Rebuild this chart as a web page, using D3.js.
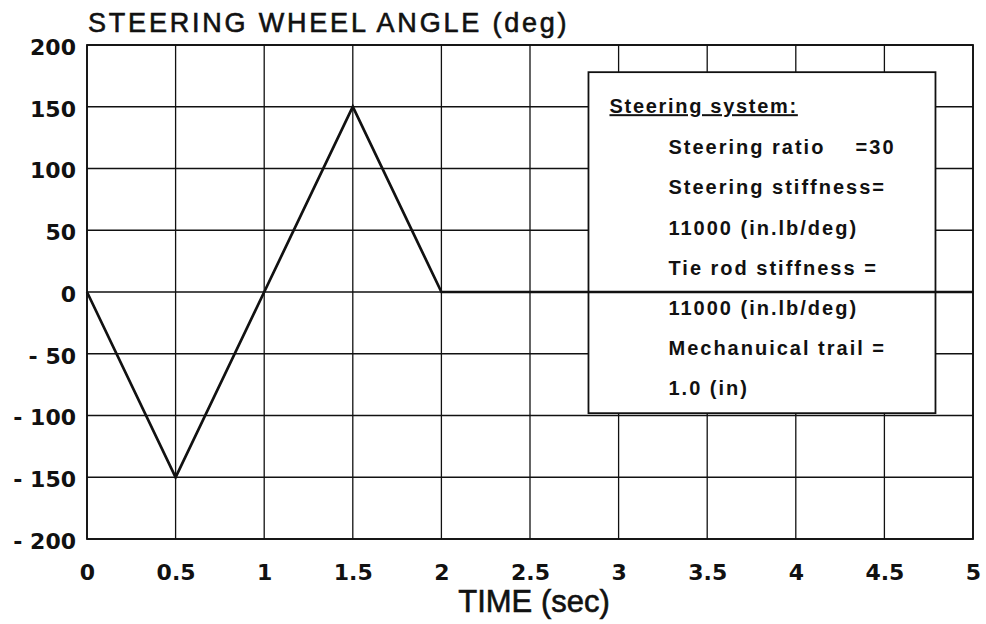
<!DOCTYPE html>
<html>
<head>
<meta charset="utf-8">
<script src="https://cdn.jsdelivr.net/npm/d3@7"></script>
<style>
  body { margin: 0; background: #fff; }
  svg { font-family: "Liberation Sans", Arial, sans-serif; }
</style>
</head>
<body>
<svg id="chart" width="986" height="624"></svg>
<script>
// steering input: time (sec) and steering wheel angle (deg)
const time = [0, 0.5, 1, 1.5, 2, 5]
const angle = [0, -150, 0, 150, 0, 0]

const xTicks = [0, 0.5, 1, 1.5, 2, 2.5, 3, 3.5, 4, 4.5, 5]
const yTicks = [200, 150, 100, 50, 0, -50, -100, -150, -200]

const legendTitle = "Steering system:"
const legendLines = [
    "Steering ratio    =30",
    "Steering stiffness=",
    "11000 (in.lb/deg)",
    "Tie rod stiffness =",
    "11000 (in.lb/deg)",
    "Mechanuical trail =",
    "1.0 (in)"
]

const margin = { top: 45, right: 13, bottom: 85, left: 87 }
const width = 986 - margin.left - margin.right
const height = 624 - margin.top - margin.bottom

const svg = d3.select("#chart")
const g = svg.append("g")
    .attr("transform", `translate(${margin.left},${margin.top})`)

const x = d3.scaleLinear().domain([0, 5]).range([0, width])
const y = d3.scaleLinear().domain([-200, 200]).range([height, 0])

// grid
g.append("g")
    .selectAll("line")
    .data(xTicks)
    .join("line")
    .attr("x1", d => x(d)).attr("x2", d => x(d))
    .attr("y1", 0).attr("y2", height)
    .attr("stroke", "#111").attr("stroke-width", 1.3)

g.append("g")
    .selectAll("line")
    .data(yTicks)
    .join("line")
    .attr("x1", 0).attr("x2", width)
    .attr("y1", d => y(d)).attr("y2", d => y(d))
    .attr("stroke", "#111").attr("stroke-width", 1.6)

g.append("rect")
    .attr("width", width).attr("height", height)
    .attr("fill", "none").attr("stroke", "#111").attr("stroke-width", 1.8)

// tick labels
const tickFont = "DejaVu Sans, Verdana, sans-serif"

const xAxis = g.append("g")
    .attr("transform", `translate(0,${height})`)
    .call(d3.axisBottom(x).tickValues(xTicks).tickSize(0).tickFormat(d3.format("")))
xAxis.select(".domain").remove()
xAxis.selectAll("text")
    .attr("y", 41).attr("dy", 0)
    .attr("font-size", 22).attr("font-weight", "bold").attr("fill", "#111")
    .attr("font-family", tickFont)

const yAxis = g.append("g")
    .call(d3.axisLeft(y).tickValues(yTicks).tickSize(0).tickPadding(11)
        .tickFormat(d => d < 0 ? "- " + Math.abs(d) : d))
yAxis.select(".domain").remove()
yAxis.selectAll("text")
    .attr("dy", "0.42em")
    .attr("font-size", 22).attr("font-weight", "bold").attr("fill", "#111")
    .attr("font-family", tickFont)
    .style("white-space", "pre")

// legend box
const lx = x(2.83), ly = y(178)
const legend = g.append("g").attr("transform", `translate(${lx},${ly})`)
legend.append("rect")
    .attr("width", 347).attr("height", 341)
    .attr("fill", "#fff").attr("stroke", "#111").attr("stroke-width", 1.8)

legend.append("text")
    .attr("x", 21).attr("y", 41)
    .attr("font-size", 20).attr("font-weight", "bold").attr("letter-spacing", 1.7)
    .attr("text-decoration", "underline")
    .attr("fill", "#111")
    .text(legendTitle)

legend.selectAll("text.item")
    .data(legendLines)
    .join("text")
    .attr("class", "item")
    .attr("x", 80)
    .attr("y", (d, i) => 82 + i * 40.2)
    .attr("font-size", 20).attr("font-weight", "bold").attr("letter-spacing", 2)
    .attr("fill", "#111")
    .style("white-space", "pre")
    .text(d => d)

// data line
const pts = time.map((t, i) => [t, angle[i]])
g.append("path")
    .datum(pts)
    .attr("fill", "none")
    .attr("stroke", "#111")
    .attr("stroke-width", 2.7)
    .attr("stroke-linejoin", "miter")
    .attr("d", d3.line().x(d => x(d[0])).y(d => y(d[1])))

// titles
svg.append("text")
    .attr("x", 88).attr("y", 32)
    .attr("font-size", 27).attr("fill", "#111")
    .attr("stroke", "#111").attr("stroke-width", 0.6)
    .attr("letter-spacing", 2.8)
    .text("STEERING WHEEL ANGLE (deg)")

svg.append("text")
    .attr("x", 534).attr("y", 612)
    .attr("text-anchor", "middle")
    .attr("font-size", 31).attr("fill", "#111")
    .attr("stroke", "#111").attr("stroke-width", 0.6)
    .text("TIME (sec)")
</script>
</body>
</html>
